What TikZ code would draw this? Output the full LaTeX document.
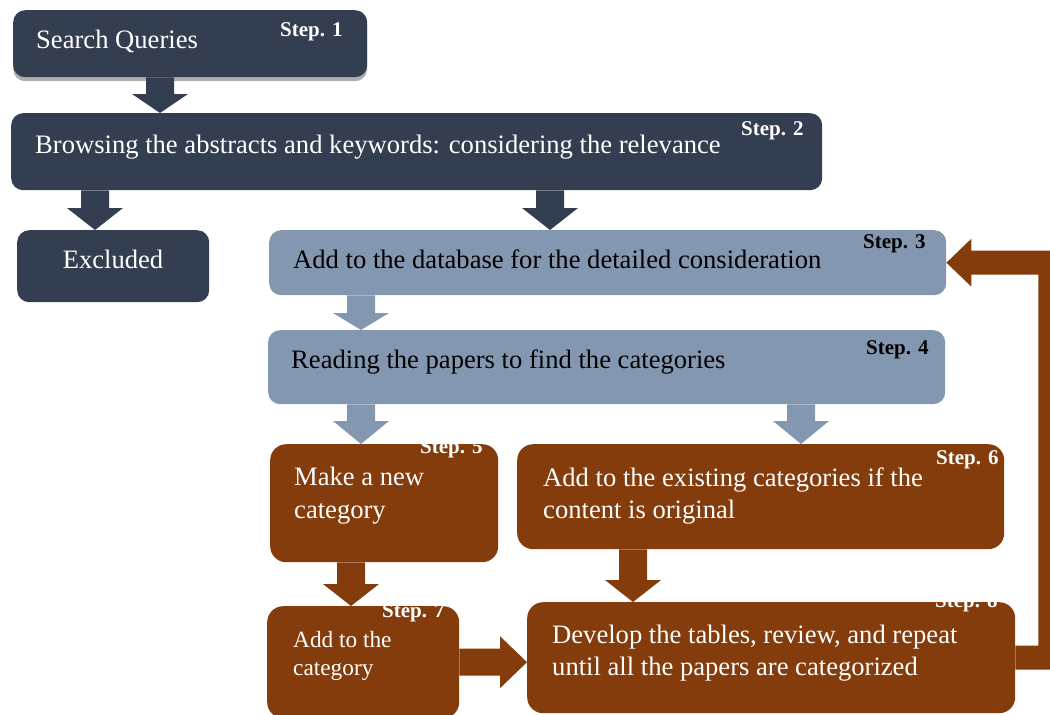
\documentclass[tikz,border=0pt]{standalone}
\usepackage{fontspec}
\setmainfont{Liberation Serif}
\usetikzlibrary{calc,shadows}
\definecolor{darkslate}{HTML}{333F50}
\definecolor{lightslate}{HTML}{8497B0}
\definecolor{brownbox}{HTML}{843C0C}
\newcommand\mainfs{\fontsize{26.6}{30}\selectfont}
\newcommand\smallfs{\fontsize{23.3}{27}\selectfont}
\newcommand\stepfs{\fontsize{21}{24}\selectfont\bfseries}
% vertical block arrow: color, start, end, half shaft, half head, head length
\newcommand\vblk[6]{%
  \fill[#1] let \p1=(#2), \p2=(#3) in
    (\x1-#4,\y1) -- (\x1+#4,\y1) -- (\x1+#4,\y2+#6) -- (\x1+#5,\y2+#6) --
    (\x1,\y2) -- (\x1-#5,\y2+#6) -- (\x1-#4,\y2+#6) -- cycle;}
\begin{document}
\begin{tikzpicture}[x=1pt,y=-1pt,
  box/.style={rounded corners=12pt, inner sep=0pt, anchor=north west, draw=none},
  dbox/.style={box, fill=darkslate},
  lbox/.style={box, fill=lightslate},
  bbox/.style={box, fill=brownbox, rounded corners=16pt},
  wtxt/.style={anchor=base west, inner sep=0pt, text=white, font=\mainfs},
  ktxt/.style={anchor=base west, inner sep=0pt, text=black, font=\mainfs},
  wstep/.style={anchor=base west, inner sep=0pt, text=white, font=\stepfs},
  kstep/.style={anchor=base west, inner sep=0pt, text=black, font=\stepfs}]
\useasboundingbox (0,0) rectangle (1050,715);
\clip (0,0) rectangle (1050,715);

% boxes
\node[dbox, minimum width=354pt, minimum height=67pt,
      drop shadow={opacity=0.45, shadow xshift=0pt, shadow yshift=-4pt, fill=black!70}] (b1) at (13,10) {};
\node[dbox, minimum width=811pt, minimum height=77pt] (b2) at (11,113) {};
\node[dbox, minimum width=192pt, minimum height=72pt] (bx) at (17,230) {};
\node[lbox, minimum width=677pt, minimum height=65pt] (b3) at (269,230) {};
\node[lbox, minimum width=677pt, minimum height=74pt] (b4) at (268,330) {};
\node[bbox, minimum width=228pt, minimum height=118pt] (b5) at (270,444) {};
\node[bbox, minimum width=487pt, minimum height=105pt] (b6) at (517,444) {};
\node[bbox, minimum width=192pt, minimum height=112pt] (b7) at (267,606) {};
\node[bbox, minimum width=488pt, minimum height=111pt] (b8) at (527,602) {};

% texts
\node[wtxt] (t1) at (36,48) {Search Queries};
\node[wstep] (s1) at (280,36) {Step. 1};
\node[wtxt] (t2) at (35,153) {Browsing the abstracts and keywords: considering the relevance};
\node[wstep] (s2) at (741,135) {Step. 2};
\node[wtxt, anchor=base] (tx) at (113,268) {Excluded};
\node[ktxt] (t3) at (293,268) {Add to the database for the detailed consideration};
\node[kstep] (s3) at (863,248) {Step. 3};
\node[ktxt] (t4) at (291,368) {Reading the papers to find the categories};
\node[kstep] (s4) at (866,354) {Step. 4};
\node[wtxt] (t5a) at (294,485) {Make a new};
\node[wtxt] (t5b) at (294,518) {category};
\begin{scope}
  \clip[rounded corners=16pt] (b5.north west) rectangle (b5.south east);
  \node[wstep] (s5) at (420,453) {Step. 5};
\end{scope}
\node[wtxt] (t6a) at (543,486) {Add to the existing categories if the};
\node[wtxt] (t6b) at (543,518) {content is original};
\node[wstep] (s6) at (936,464) {Step. 6};
\node[wtxt, font=\smallfs] (t7a) at (293,647) {Add to the};
\node[wtxt, font=\smallfs] (t7b) at (293,675) {category};
\begin{scope}
  \clip[rounded corners=16pt] (b7.north west) rectangle (b7.south east);
  \node[wstep] (s7) at (382,617) {Step. 7};
\end{scope}
\node[wtxt] (t8a) at (552,643) {Develop the tables, review, and repeat};
\node[wtxt] (t8b) at (552,675) {until all the papers are categorized};
\begin{scope}
  \clip[rounded corners=16pt] (b8.north west) rectangle (b8.south east);
  \node[wstep] (s8) at (935,607) {Step. 8};
\end{scope}

% arrow columns
\coordinate (c1) at (160,0);
\coordinate (c2) at (95,0);
\coordinate (c3) at (550,0);
\coordinate (c4) at (361,0);
\coordinate (c5) at (361,0);
\coordinate (c6) at (801,0);
\coordinate (c7) at (351,0);
\coordinate (c8) at (633,0);

\vblk{darkslate}{b1.south -| c1}{b2.north -| c1}{14pt}{28pt}{19pt}
\vblk{darkslate}{b2.south -| c2}{bx.north -| c2}{14pt}{28pt}{22pt}
\vblk{darkslate}{b2.south -| c3}{b3.north -| c3}{14pt}{28pt}{22pt}
\vblk{lightslate}{b3.south -| c4}{b4.north -| c4}{14pt}{28pt}{17pt}
\vblk{lightslate}{b4.south -| c5}{b5.north -| c5}{14pt}{28pt}{23pt}
\vblk{lightslate}{b4.south -| c6}{b6.north -| c6}{14pt}{28pt}{23pt}
\vblk{brownbox}{b5.south -| c7}{b7.north -| c7}{14pt}{28pt}{22pt}
\vblk{brownbox}{b6.south -| c8}{b8.north -| c8}{14pt}{28pt}{22pt}

% horizontal arrow b7 -> b8
\fill[brownbox] let \p1=(b7.east), \p2=(b8.west) in
  (\x1,\y1+13.5pt) -- (\x2-27pt,\y1+13.5pt) -- (\x2-27pt,\y1+26pt) --
  (\x2,\y1) -- (\x2-27pt,\y1-26pt) -- (\x2-27pt,\y1-13.5pt) -- (\x1,\y1-13.5pt) -- cycle;

% feedback arrow b8 -> b3
\fill[brownbox] let \p1=(b8.east), \p2=(b3.east) in
  (\x1,\y1+12pt) -- (\x1+23pt,\y1+12pt) -- (\x1+23pt,\y2-12pt) --
  (\x2+25pt,\y2-12pt) -- (\x2+25pt,\y2-24pt) -- (\x2,\y2) --
  (\x2+25pt,\y2+24pt) -- (\x2+25pt,\y2+12pt) -- (\x1+47pt,\y2+12pt) --
  (\x1+47pt,\y1-12pt) -- (\x1,\y1-12pt) -- cycle;
\end{tikzpicture}
\end{document}
